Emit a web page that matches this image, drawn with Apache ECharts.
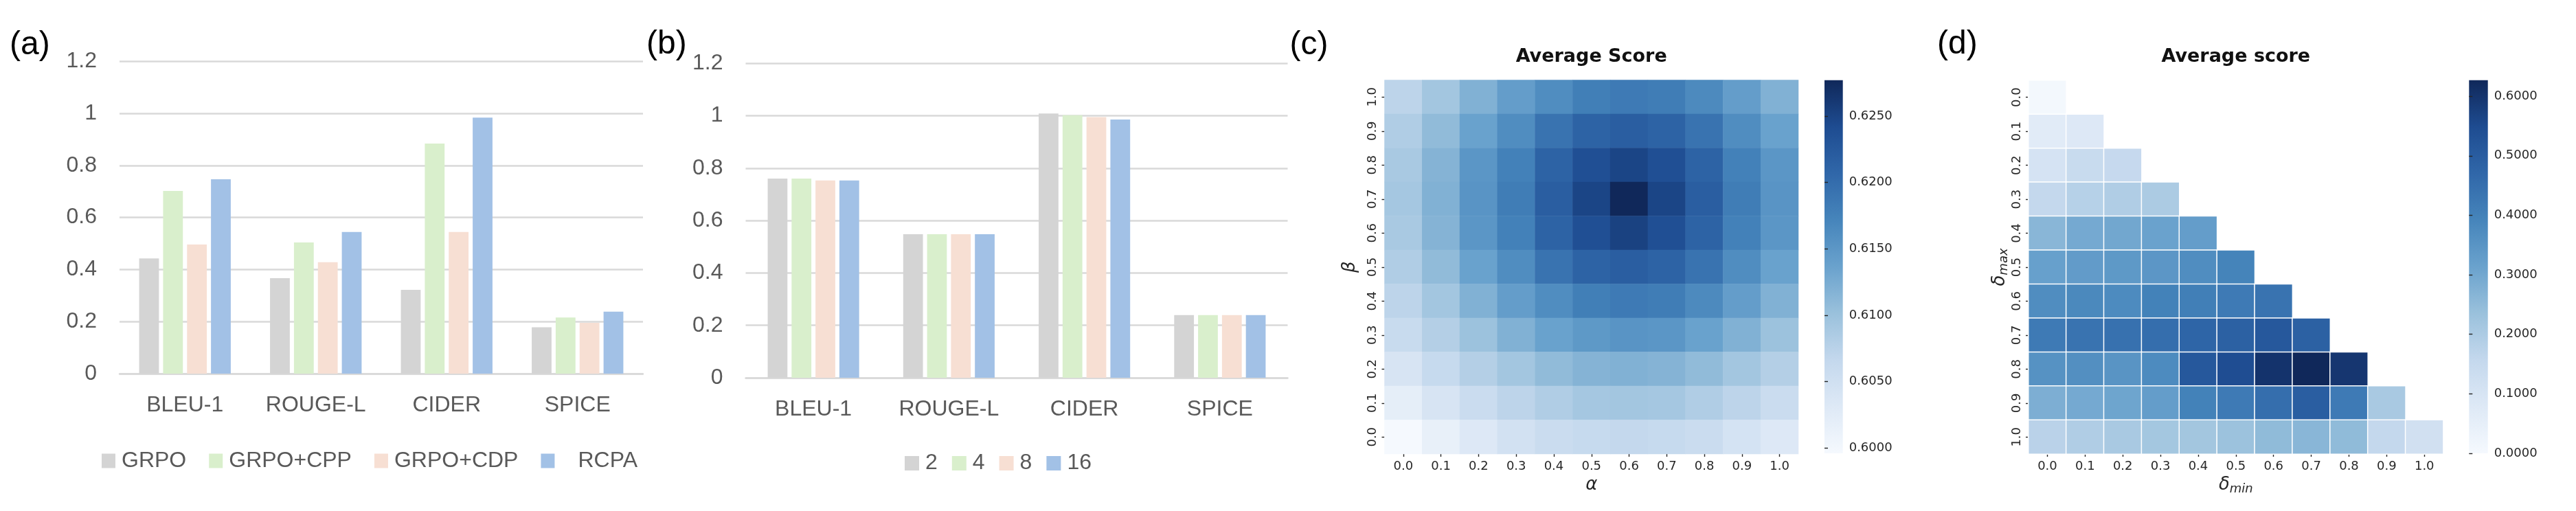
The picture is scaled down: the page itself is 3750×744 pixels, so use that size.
<!DOCTYPE html>
<html><head><meta charset="utf-8">
<script src="https://cdn.jsdelivr.net/npm/echarts@6.0.0/dist/echarts.min.js"></script>
<style>html,body{margin:0;padding:0;background:#fff}#c{width:3750px;height:744px}</style>
</head><body><div id="c"></div>
<script>
// ---------- data ----------
const metricCats = ['BLEU-1', 'ROUGE-L', 'CIDER', 'SPICE'];
const barTicks = [0, 0.2, 0.4, 0.6, 0.8, 1, 1.2];
// panel (a)
const grpo    = [0.443, 0.367, 0.322, 0.178];
const grpoCPP = [0.702, 0.504, 0.884, 0.216];
const grpoCDP = [0.496, 0.428, 0.544, 0.195];
const rcpa    = [0.747, 0.544, 0.984, 0.238];
// panel (b)
const g2  = [0.760, 0.548, 1.009, 0.239];
const g4  = [0.760, 0.548, 1.002, 0.239];
const g8  = [0.753, 0.548, 0.995, 0.239];
const g16 = [0.753, 0.548, 0.986, 0.239];
// panel (c) heatmap: rows beta = 1.0 (top) ... 0.0 (bottom), cols alpha = 0.0 ... 1.0
const gridLabels = ['0.0','0.1','0.2','0.3','0.4','0.5','0.6','0.7','0.8','0.9','1.0'];
const scoreC = [
  [0.6072,0.6094,0.6120,0.6142,0.6162,0.6179,0.6184,0.6181,0.6165,0.6142,0.6120],
  [0.6083,0.6108,0.6137,0.6162,0.6193,0.6212,0.6218,0.6212,0.6193,0.6162,0.6137],
  [0.6089,0.6117,0.6151,0.6176,0.6212,0.6238,0.6249,0.6238,0.6212,0.6176,0.6151],
  [0.6092,0.6120,0.6153,0.6181,0.6218,0.6249,0.6277,0.6249,0.6218,0.6181,0.6153],
  [0.6089,0.6117,0.6151,0.6176,0.6212,0.6238,0.6252,0.6238,0.6212,0.6176,0.6151],
  [0.6083,0.6108,0.6137,0.6162,0.6193,0.6212,0.6218,0.6212,0.6193,0.6162,0.6137],
  [0.6072,0.6094,0.6120,0.6142,0.6162,0.6179,0.6184,0.6181,0.6165,0.6142,0.6120],
  [0.6061,0.6080,0.6100,0.6120,0.6137,0.6148,0.6153,0.6151,0.6137,0.6120,0.6100],
  [0.6041,0.6063,0.6080,0.6094,0.6108,0.6117,0.6120,0.6117,0.6108,0.6094,0.6080],
  [0.6021,0.6041,0.6058,0.6072,0.6083,0.6092,0.6094,0.6092,0.6083,0.6072,0.6058],
  [0.5996,0.6016,0.6033,0.6047,0.6058,0.6063,0.6066,0.6063,0.6058,0.6044,0.6033]
];
const rangeC = [0.5996, 0.6277];
const cbarTicksC = [0.600, 0.605, 0.610, 0.615, 0.620, 0.625];
// panel (d) heatmap: rows delta_max = 0.0 (top) ... 1.0 (bottom), cols delta_min = 0.0 ... (lower triangle)
const scoreD = [
  [0.006],
  [0.069, 0.082],
  [0.107, 0.144, 0.150],
  [0.157, 0.182, 0.194, 0.201],
  [0.263, 0.295, 0.301, 0.314, 0.326],
  [0.320, 0.332, 0.339, 0.345, 0.370, 0.395],
  [0.370, 0.382, 0.376, 0.401, 0.408, 0.420, 0.439],
  [0.420, 0.439, 0.445, 0.451, 0.477, 0.489, 0.514, 0.489],
  [0.357, 0.364, 0.351, 0.376, 0.514, 0.545, 0.602, 0.627, 0.596],
  [0.282, 0.295, 0.307, 0.326, 0.401, 0.420, 0.451, 0.495, 0.420, 0.207],
  [0.176, 0.194, 0.207, 0.216, 0.219, 0.232, 0.251, 0.263, 0.251, 0.157, 0.119]
];
const rangeD = [0, 0.627];
const cbarTicksD = [0, 0.1, 0.2, 0.3, 0.4, 0.5, 0.6];

// ---------- build ----------
const dataC = [];
scoreC.forEach((row, r) => row.forEach((v, c) => dataC.push([c, 10 - r, v])));
const dataD = [];
scoreD.forEach((row, r) => row.forEach((v, c) => dataD.push([c, r, v])));

const blues = ['#f5f9fe','#dee9f6','#c4d8ed','#9ac1dc','#6aa2cd','#4685bb','#3067a9','#1e4c91','#10285a'];
const XL = '"Liberation Sans", Arial, sans-serif';
const DJ = '"DejaVu Sans", sans-serif';
const labGrey = '#595959';
const gridGrey = '#d9d9d9';
const ink = '#262626';
const clear = 'rgba(0,0,0,0)';

function barX(gi) {
  return {type:'category', gridIndex: gi, data: metricCats,
    axisLine:{show:true, lineStyle:{color:gridGrey, width:2.5}}, axisTick:{show:false},
    axisLabel:{color:labGrey, fontSize:32, fontFamily:XL, margin:30, lineHeight:32, interval:0}};
}
function barY(gi) {
  return {type:'value', gridIndex: gi, min:barTicks[0], max:barTicks[barTicks.length-1], interval:0.2,
    axisLine:{show:false}, axisTick:{show:false},
    splitLine:{lineStyle:{color:gridGrey, width:2.5}},
    axisLabel:{color:labGrey, fontSize:32, fontFamily:XL, margin:33}};
}
function hmX(gi, name, rich) {
  return {type:'category', gridIndex: gi, data: gridLabels,
    axisLine:{show:true, lineStyle:{color:clear}},
    axisTick:{show:true, alignWithLabel:true, length:4, lineStyle:{color:ink, width:1.4}},
    axisLabel:{color:ink, fontSize:18, fontFamily:DJ, margin:9, interval:0},
    splitLine:{show:false},
    name: name, nameLocation:'middle', nameGap:28,
    nameTextStyle: rich ? {rich: rich} : {fontSize:26, fontStyle:'italic', fontFamily:DJ, color:ink}};
}
function hmY(gi, name, rich, inverse, gap) {
  return {type:'category', gridIndex: gi, data: gridLabels, inverse: inverse,
    axisLine:{show:true, lineStyle:{color:clear}},
    axisTick:{show:true, alignWithLabel:true, length:4, lineStyle:{color:ink, width:1.4}},
    axisLabel:{color:ink, fontSize:18, fontFamily:DJ, margin:8, rotate:90, interval:0},
    splitLine:{show:false},
    name: name, nameLocation:'middle', nameGap:gap, nameRotate:90,
    nameTextStyle: rich ? {rich: rich} : {fontSize:26, fontStyle:'italic', fontFamily:DJ, color:ink}};
}
function cbarY(gi, range, ticks) {
  return {type:'value', gridIndex: gi, position:'right', min: range[0], max: range[1],
    axisLine:{show:true, lineStyle:{color:clear}}, splitLine:{show:false},
    axisTick:{show:true, length:5, customValues: ticks, lineStyle:{color:ink, width:1.4}},
    axisLabel:{color:ink, fontSize:18, fontFamily:DJ, margin:9, customValues: ticks,
      formatter: v => Number(v).toFixed(4)}};
}
const deltaRich = () => ({
  a:{fontSize:26, fontStyle:'italic', fontFamily:DJ, color:ink},
  b:{fontSize:18, fontStyle:'italic', fontFamily:DJ, color:ink, padding:[12,0,0,0]}
});
function bar(name, data, color, xi) {
  return {type:'bar', name, data, xAxisIndex:xi, yAxisIndex:xi, barGap:'21%',
    barCategoryGap: xi === 0 ? '30%' : '32.5%', itemStyle:{color}, emphasis:{disabled:true}};
}
function colorbar(x, y, w, h) {
  return {type:'rect', shape:{x, y, width:w, height:h}, silent:true,
    style:{fill:{type:'linear', x:0, y:1, x2:0, y2:0, global:false,
      colorStops: blues.map((c, i) => ({offset: i / (blues.length - 1), color: c}))}}};
}
function label(text, x, y, font, extra) {
  return {type:'text', x, y, silent:true,
    style:Object.assign({text, font, fill:'#000', verticalAlign:'middle'}, extra || {})};
}

const option = {
  backgroundColor:'#fff',
  animation:false,
  grid:[
    {left:174, top:89.3, width:762, height:454.7},
    {left:1085.5, top:92.3, width:789, height:457.7},
    {left:2015.5, top:116.5, width:602.5, height:544.5},
    {left:2953, top:117, width:603.7, height:544},
    {left:2656, top:116.8, width:26.7, height:543.2},
    {left:3594.3, top:116.8, width:27.4, height:543.2}
  ],
  xAxis:[
    barX(0), barX(1),
    hmX(2, 'α'),
    hmX(3, '{a|δ}{b|min}', deltaRich()),
    {type:'value', gridIndex:4, show:false, min:0, max:1},
    {type:'value', gridIndex:5, show:false, min:0, max:1}
  ],
  yAxis:[
    barY(0), barY(1),
    hmY(2, 'β', null, false, 37),
    hmY(3, '{a|δ}{b|max}', deltaRich(), true, 23),
    cbarY(4, rangeC, cbarTicksC),
    cbarY(5, rangeD, cbarTicksD)
  ],
  legend:[
    {left:148, top:655, padding:0, itemWidth:20, itemHeight:21, itemGap:33, icon:'rect',
      data:['GRPO','GRPO+CPP','GRPO+CDP',{name:'RCPA', textStyle:{padding:[0,0,0,29]}}],
      textStyle:{fontSize:32, color:labGrey, fontFamily:XL, padding:[0,0,0,4]}},
    {left:1317, top:658.5, padding:0, itemWidth:21, itemHeight:21, itemGap:21, icon:'rect',
      data:['2','4','8','16'],
      textStyle:{fontSize:32, color:labGrey, fontFamily:XL, padding:[0,0,0,4]}}
  ],
  visualMap:[
    {type:'continuous', show:false, seriesIndex:8, min:rangeC[0], max:rangeC[1], inRange:{color:blues}},
    {type:'continuous', show:false, seriesIndex:9, min:rangeD[0], max:rangeD[1], inRange:{color:blues}}
  ],
  series:[
    bar('GRPO', grpo, '#d4d4d4', 0),
    bar('GRPO+CPP', grpoCPP, '#d9efcc', 0),
    bar('GRPO+CDP', grpoCDP, '#f7dfd3', 0),
    bar('RCPA', rcpa, '#a2c1e6', 0),
    bar('2', g2, '#d4d4d4', 1),
    bar('4', g4, '#d9efcc', 1),
    bar('8', g8, '#f7dfd3', 1),
    bar('16', g16, '#a2c1e6', 1),
    {type:'heatmap', xAxisIndex:2, yAxisIndex:2, data:dataC, emphasis:{disabled:true}},
    {type:'heatmap', xAxisIndex:3, yAxisIndex:3, data:dataD, emphasis:{disabled:true},
      itemStyle:{borderColor:'#ffffff', borderWidth:1.5}}
  ],
  graphic:[
    colorbar(2656, 116.8, 26.7, 543.2),
    colorbar(3594.3, 116.8, 27.4, 543.2),
    label('(a)', 14, 66, '48px ' + XL),
    label('(b)', 941, 65, '48px ' + XL),
    label('(c)', 1877.5, 66, '48px ' + XL),
    label('(d)', 2820, 65, '48px ' + XL),
    label('Average Score', 2316.7, 83, 'bold 27px ' + DJ, {align:'center', fill:'#111'}),
    label('Average score', 3254.8, 83, 'bold 27px ' + DJ, {align:'center', fill:'#111'})
  ]
};
const chart = echarts.init(document.getElementById('c'), null, {renderer:'canvas'});
chart.setOption(option);
</script></body></html>
